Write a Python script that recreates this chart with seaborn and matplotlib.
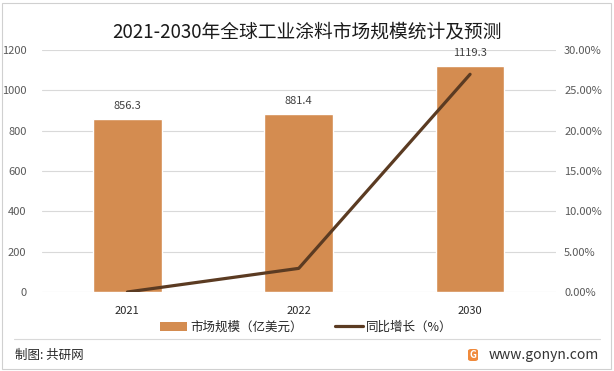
import matplotlib
matplotlib.use("Agg")
import matplotlib.pyplot as plt
import seaborn as sns
import pandas as pd
from matplotlib.lines import Line2D
from matplotlib.patches import Rectangle, Patch, FancyBboxPatch

years = ["2021", "2022", "2030"]
market = [856.3, 881.4, 1119.3]
growth = [0.0, 2.93, 26.99]
left_ticks = [0, 200, 400, 600, 800, 1000, 1200]
right_ticks = [0, 5, 10, 15, 20, 25, 30]

sns.set_theme(style="white")
plt.rcParams['font.family'] = ['Noto Sans CJK SC', 'DejaVu Sans']

bar_color = "#D48C50"
line_color = "#5B3B22"
tick_color = "#595959"

fig = plt.figure(figsize=(6.14, 3.71), dpi=100)
ax = fig.add_axes([41.75/614, 79/371, (555.75-41.75)/614, (292-50)/371])

df = pd.DataFrame({"year": years, "market": market})
sns.barplot(data=df, x="year", y="market", color=bar_color, width=0.40,
            saturation=1, ax=ax, zorder=2)
ax.set_xlim(-0.5, 2.5)
ax.set_ylim(0, 1200)
ax.set_yticks(left_ticks)
ax.set_yticklabels([str(t) for t in left_ticks])
ax.grid(axis="y", color="#d9d9d9", lw=0.8, zorder=0)
ax.set_axisbelow(True)
for s in ax.spines.values():
    s.set_visible(False)
ax.set_xlabel("")
ax.set_ylabel("")
ax.tick_params(axis="both", length=0, labelsize=8, colors=tick_color)
ax.tick_params(axis="x", pad=10, colors="#262626")
ax.tick_params(axis="y", pad=11)
for lab in ax.get_xticklabels():
    lab.set_color("#262626")
for i, v in enumerate(market):
    ax.annotate(f"{v}", (i, v), xytext=(0, 9.5), textcoords="offset points",
                ha="center", va="center", fontsize=8, color="#404040")

ax2 = ax.twinx()
sns.lineplot(x=[0, 1, 2], y=growth, ax=ax2, color=line_color, lw=2.3, zorder=3)
ax2.set_xlim(-0.5, 2.5)
ax2.set_ylim(0, 30)
ax2.set_yticks(right_ticks)
ax2.set_yticklabels([f"{t:.2f}%" for t in right_ticks])
ax2.tick_params(axis="y", length=0, labelsize=8, colors=tick_color, pad=6)
for s in ax2.spines.values():
    s.set_visible(False)
ax2.grid(False)

fig.text(307/614, 1 - 32/371, "2021-2030年全球工业涂料市场规模统计及预测",
         ha="center", va="center", fontsize=13.5, color="#1a1a1a")

handles = [Patch(facecolor=bar_color, edgecolor="none"),
           Line2D([0], [0], color=line_color, lw=2.3)]
fig.legend(handles, ["市场规模（亿美元）", "同比增长（%）"],
           loc="center", bbox_to_anchor=(306/614, 1 - 327/371), ncol=2,
           frameon=False, fontsize=9, handlelength=2.2, columnspacing=2.6,
           handletextpad=0.25, labelcolor="#262626")

fig.add_artist(Line2D([14/614, 600/614], [1 - 339/371, 1 - 339/371],
                      color="#d9d9d9", lw=0.8, transform=fig.transFigure))
fig.add_artist(Rectangle((2/614, 2/371), 609/614, 366/371, fill=False,
                         edgecolor="#d0d0d0", lw=0.8, transform=fig.transFigure))

fig.text(15/614, 1 - 355/371, "制图: 共研网", ha="left", va="center",
         fontsize=9, color="#262626")
fig.add_artist(FancyBboxPatch((468/614, 1 - 361/371), 10/614, 12/371,
                              boxstyle="round,pad=0,rounding_size=0.005",
                              facecolor="#F08A3C", edgecolor="none",
                              transform=fig.transFigure))
fig.text(473/614, 1 - 355/371, "G", ha="center", va="center", fontsize=7,
         color="white", fontweight="bold")
fig.text(489/614, 1 - 355/371, "www.gonyn.com", ha="left", va="center",
         fontsize=10, color="#333333")

fig.savefig("out.png", dpi=100)
